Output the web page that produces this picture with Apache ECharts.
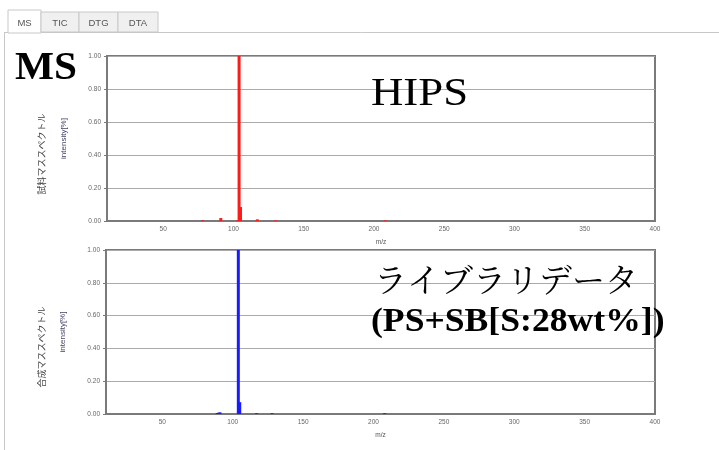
<!DOCTYPE html>
<html><head><meta charset="utf-8">
<script src="https://cdn.jsdelivr.net/npm/echarts@6/dist/echarts.min.js"></script>
<style>html,body{margin:0;padding:0;background:#fff}#c{width:719px;height:450px}</style>
</head><body><div id="c"></div>
<script>
// Data
const tabs = ['MS', 'TIC', 'DTG', 'DTA'];
const yTicks = [0, 0.2, 0.4, 0.6, 0.8, 1.0];
const xTicks = [50, 100, 150, 200, 250, 300, 350, 400];
const sampleMz = [78, 91, 103, 104, 105, 117, 130, 208];
const sampleInt = [0.005, 0.018, 0.004, 1.0, 0.085, 0.01, 0.004, 0.004];
const libMz = [89, 90, 91, 104, 105, 117, 128, 208];
const libInt = [0.006, 0.008, 0.01, 1.0, 0.072, 0.005, 0.005, 0.005];
const topTitle = '試料マススペクトル';
const botTitle = '合成マススペクトル';

const chart = echarts.init(document.getElementById('c'), null, {renderer: 'canvas'});
const axisCol = '#7a7a7a';
function xAx(i) {
  return {
    type: 'value', gridIndex: i, min: 10, max: 400, interval: 50,
    name: 'm/z', nameLocation: 'middle', nameGap: 18,
    nameTextStyle: {fontSize: 6.5, color: '#555', fontFamily: 'Liberation Sans'},
    axisLine: {show: true, onZero: false, lineStyle: {color: axisCol, width: 2}},
    axisTick: {show: false},
    axisLabel: {fontSize: 6.5, color: '#666', margin: 5, fontFamily: 'Liberation Sans',
      customValues: xTicks},
    splitLine: {show: false}
  };
}
function yAx(i) {
  return {
    type: 'value', gridIndex: i, min: 0, max: 1, interval: 0.2,
    name: 'intensity[%]', nameLocation: 'middle', nameGap: 39, nameRotate: 90,
    nameTextStyle: {fontSize: 8, color: '#446', fontFamily: 'Liberation Sans Narrow, Liberation Sans'},
    axisLine: {show: true, lineStyle: {color: axisCol, width: 2}},
    axisTick: {show: true, length: 3, lineStyle: {color: axisCol}},
    axisLabel: {fontSize: 6.5, color: '#666', margin: 6, fontFamily: 'Liberation Sans',
      formatter: v => v.toFixed(2)},
    splitLine: {show: true, lineStyle: {color: '#aaa', width: 1.2}}
  };
}
const tabW = [33, 38, 39, 40];
const tabGraphics = [];
let tx = 8;
tabs.forEach((t, i) => {
  const active = i === 0;
  tabGraphics.push({type: 'rect', shape: {x: tx, y: active ? 10 : 12, width: tabW[i], height: active ? 23 : 20},
    style: {fill: active ? '#fff' : '#f0f0f0', stroke: '#c8c8c8', lineWidth: 1}, z: 10});
  tabGraphics.push({type: 'text', x: tx + tabW[i] / 2, y: 23, style: {text: t, fontSize: 9.5, fill: '#555',
    fontFamily: 'Liberation Sans', align: 'center', verticalAlign: 'middle'}, z: 11});
  tx += tabW[i];
});

chart.setOption({
  animation: false,
  grid: [
    {left: 107, right: 64, top: 56, height: 165, show: true, borderColor: axisCol, borderWidth: 2},
    {left: 106, right: 64, top: 250, height: 164, show: true, borderColor: axisCol, borderWidth: 2}
  ],
  xAxis: [xAx(0), xAx(1)],
  yAxis: [yAx(0), yAx(1)],
  series: [
    {type: 'bar', xAxisIndex: 0, yAxisIndex: 0, barWidth: 3, itemStyle: {color: '#ff1a1a'},
      data: sampleMz.map((m, i) => [m, sampleInt[i]])},
    {type: 'bar', xAxisIndex: 1, yAxisIndex: 1, barWidth: 3, itemStyle: {color: '#1a1aff'},
      data: libMz.map((m, i) => [m, libInt[i]])}
  ],
  graphic: [
    {type: 'line', shape: {x1: 4, y1: 32.5, x2: 719, y2: 32.5}, style: {stroke: '#c8c8c8', lineWidth: 1}, z: 5},
    {type: 'line', shape: {x1: 4.5, y1: 32, x2: 4.5, y2: 450}, style: {stroke: '#c8c8c8', lineWidth: 1}, z: 5},
    ...tabGraphics,
    {type: 'text', x: 15, y: 49, scaleX: 1.06, style: {text: 'MS', fontSize: 39, fontWeight: 'bold',
      fontFamily: 'Liberation Serif', fill: '#000'}, z: 20},
    {type: 'text', x: 371, y: 74, scaleX: 1.12, style: {text: 'HIPS', fontSize: 40, fontFamily: 'Liberation Serif',
      fill: '#000'}, z: 20},
    {type: 'text', x: 374, y: 263, style: {text: 'ライブラリデータ', fontSize: 33, fontFamily: 'Noto Serif CJK JP, Noto Sans CJK JP',
      fill: '#000'}, z: 20},
    {type: 'text', x: 371, y: 306, scaleX: 1.08, style: {text: '(PS+SB[S:28wt%])', fontSize: 33, fontWeight: 'bold', fontFamily: 'Liberation Serif',
      fill: '#000'}, z: 20},
    {type: 'text', x: 42, y: 154, rotation: Math.PI / 2, style: {text: topTitle, fontSize: 9,
      fontFamily: 'Noto Sans CJK JP', fill: '#444', align: 'center', verticalAlign: 'middle'}, z: 20},
    {type: 'text', x: 42, y: 347, rotation: Math.PI / 2, style: {text: botTitle, fontSize: 9,
      fontFamily: 'Noto Sans CJK JP', fill: '#444', align: 'center', verticalAlign: 'middle'}, z: 20}
  ]
});
</script></body></html>
